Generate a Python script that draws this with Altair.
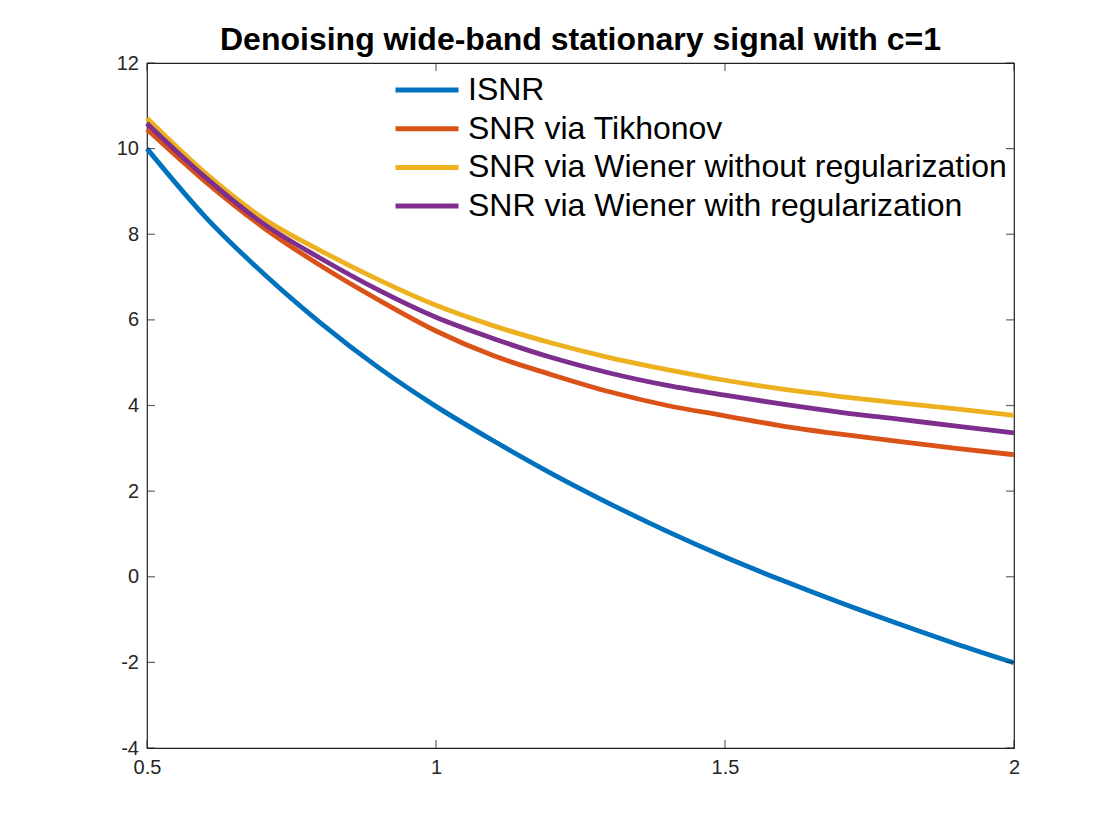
import altair as alt
import pandas as pd

x_vals = [0.5, 0.6, 0.7, 0.8, 0.9, 1.0, 1.1, 1.2, 1.3, 1.4, 1.5, 1.6, 1.7, 1.8, 1.9, 2.0]
isnr = [10.0, 8.42, 7.10, 5.93, 4.89, 3.98, 3.17, 2.41, 1.71, 1.06, 0.46, -0.09, -0.61, -1.10, -1.57, -2.01]
tikhonov = [10.45, 9.24, 8.17, 7.27, 6.47, 5.74, 5.16, 4.72, 4.32, 4.00, 3.76, 3.52, 3.33, 3.16, 3.00, 2.85]
wiener_noreg = [10.71, 9.44, 8.38, 7.62, 6.94, 6.34, 5.86, 5.46, 5.12, 4.84, 4.59, 4.38, 4.21, 4.06, 3.92, 3.77]
wiener_reg = [10.59, 9.34, 8.26, 7.44, 6.70, 6.06, 5.56, 5.12, 4.76, 4.47, 4.24, 4.03, 3.84, 3.68, 3.52, 3.36]

series_names = ["ISNR", "SNR via Tikhonov", "SNR via Wiener without regularization",
                "SNR via Wiener with regularization"]
series_colors = ["#0072BD", "#D95319", "#EDB120", "#7E2F8E"]

x_ticks = [0.5, 1, 1.5, 2]
y_ticks = [-4, -2, 0, 2, 4, 6, 8, 10, 12]

rows = []
for name, vals in zip(series_names, [isnr, tikhonov, wiener_noreg, wiener_reg]):
    for i, (xv, yv) in enumerate(zip(x_vals, vals)):
        rows.append({"x": xv, "y": yv, "series": name, "order": i})
df = pd.DataFrame(rows)

W, H = 867, 685
font = "Liberation Sans"
axis_col = "#262626"

xscale = alt.Scale(domain=[0.5, 2], nice=False, zero=False)
yscale = alt.Scale(domain=[-4, 12], nice=False, zero=False)

lines = alt.Chart(df).mark_line(strokeWidth=4.8, interpolate="monotone").encode(
    x=alt.X("x:Q", scale=xscale,
            axis=alt.Axis(values=x_ticks, title=None, grid=False, domain=False, ticks=False,
                          labelFontSize=20, labelFont=font, labelColor=axis_col,
                          labelPadding=9, labelExpr="'' + datum.value", labelFlush=False)),
    y=alt.Y("y:Q", scale=yscale,
            axis=alt.Axis(values=y_ticks, title=None, grid=False, domain=False, ticks=False,
                          labelFontSize=20, labelFont=font, labelColor=axis_col,
                          labelPadding=8.5, labelExpr="'' + datum.value")),
    color=alt.Color("series:N",
                    scale=alt.Scale(domain=series_names, range=series_colors),
                    legend=alt.Legend(title=None, orient="none", legendX=285, legendY=11,
                                      symbolType="M-5,0H1", symbolSize=441,
                                      symbolStrokeWidth=5, labelFontSize=32,
                                      labelFont=font, labelColor="black",
                                      labelOffset=4, rowPadding=6.7, padding=0,
                                      labelLimit=800)),
    order="order:Q",
)

xt = pd.DataFrame({"v": x_ticks})
yt = pd.DataFrame({"v": y_ticks})

tick_style = dict(size=8, thickness=1.2, color="#222222")
xtick_bottom = alt.Chart(xt).mark_tick(**tick_style).encode(
    x=alt.X("v:Q", scale=xscale), y=alt.value(H - 4))
xtick_top = alt.Chart(xt).mark_tick(**tick_style).encode(
    x=alt.X("v:Q", scale=xscale), y=alt.value(4))
ytick_left = alt.Chart(yt).mark_tick(**tick_style).encode(
    y=alt.Y("v:Q", scale=yscale), x=alt.value(4))
ytick_right = alt.Chart(yt).mark_tick(**tick_style).encode(
    y=alt.Y("v:Q", scale=yscale), x=alt.value(W - 4))

chart = alt.layer(lines, xtick_bottom, xtick_top, ytick_left, ytick_right).properties(
    width=W, height=H,
    background="white",
    title=alt.TitleParams("Denoising wide-band stationary signal with c=1",
                          font=font, fontSize=32, fontWeight="bold", color="black",
                          anchor="middle", frame="group", baseline="alphabetic",
                          offset=11, dy=40),
    autosize=alt.AutoSizeParams(type="none"),
    padding={"left": 139, "top": 55, "right": 90, "bottom": 60},
).configure_view(stroke="#222222", strokeWidth=1.2).configure_axis(
    labelFontSize=20, labelFont=font, labelColor=axis_col, grid=False, domain=False,
    ticks=False
)

chart.save("out.html", embed_options={"renderer": "svg", "actions": False})
